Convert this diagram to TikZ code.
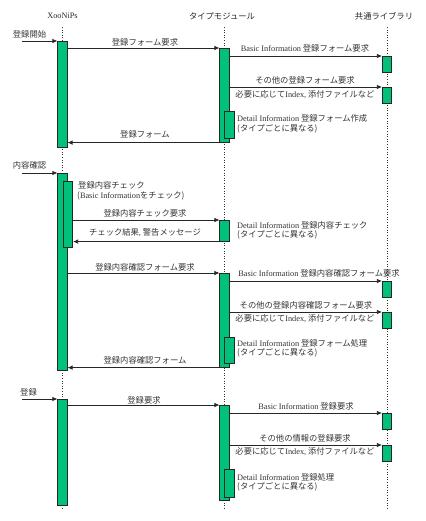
\documentclass[tikz,border=0pt]{standalone}
\usepackage{fontspec}
\setmainfont{Noto Sans CJK JP}
\newfontfamily\tm{Liberation Serif}
\usetikzlibrary{arrows.meta}
\definecolor{bargreen}{HTML}{00C07A}
\tikzset{
  bar/.style={draw=black!85, fill=bargreen, line width=0.6pt, minimum width=9.5pt, inner sep=0pt, anchor=north},
  life/.style={draw=black!80, line width=0.6pt, dotted},
  msg/.style={draw=black!85, line width=0.7pt, -{Latex[length=5pt,width=4.5pt]}},
  lbl/.style={inner sep=0pt, text=black!80, font=\fontsize{8.3}{9}\selectfont},
  note/.style={lbl, anchor=west},
  hdr/.style={inner sep=0pt, text=black!85, font=\fontsize{8.3}{9}\selectfont}
}
\begin{document}
\begin{tikzpicture}[x=1pt,y=-1pt]
\useasboundingbox (0,0) rectangle (425,521);
% headers
\node[hdr] (hx) at (62.5,16) {\tm XooNiPs};
\node[hdr] (ht) at (222,16) {タイプモジュール};
\node[hdr] (hl) at (384,16) {共通ライブラリ};
% lifelines
\coordinate (lxt) at (62.5,27); \coordinate (lxb) at (62.5,510);
\coordinate (ltt) at (224.5,27); \coordinate (ltb) at (224.5,510);
\coordinate (llt) at (387,27); \coordinate (llb) at (387,510);
\draw[life] (lxt) -- (lxb);
\draw[life] (ltt) -- (ltb);
\draw[life] (llt) -- (llb);
% ---------- section 1 ----------
\node[bar, minimum height=106pt] (x1) at (62.5,41) {};
\node[bar, minimum height=94pt] (t1) at (224.5,48) {};
\node[bar, minimum height=16pt] (l1) at (387,56) {};
\node[bar, minimum height=16pt] (l2) at (387,87) {};
\node[bar, minimum height=27pt] (t1d) at (229.5,111) {};
\coordinate (s1) at (22,41);
\node[lbl] (a1) at (29.5,34) {登録開始};
\draw[msg] (s1) -- (x1.north west);
\draw[msg] (x1.east |- t1.north) -- (t1.north west);
\node[lbl] (m1) at (145,42) {登録フォーム要求};
\draw[msg] (t1.east |- l1.north) -- (l1.north west);
\node[lbl] (m2) at (305,48) {{\tm Basic Information} 登録フォーム要求};
\draw[msg] (t1.east |- l2.north) -- (l2.north west);
\node[lbl] (m3) at (305,80) {その他の登録フォーム要求};
\node[lbl] (m3b) at (305,95) {必要に応じて{\tm Index,} 添付ファイルなど};
\node[note] (n1) at (237,118) {{\tm Detail Information} 登録フォーム作成};
\node[note] (n1b) at (237,129) {(タイプごとに異なる)};
\draw[msg] (t1.south west) -- (x1.east |- t1.south);
\node[lbl] (m4) at (145,134) {登録フォーム};
% ---------- section 2 ----------
\node[bar, minimum height=197pt] (x2) at (62.5,173) {};
\node[bar, minimum height=66pt] (x2d) at (68,181) {};
\node[bar, minimum height=21pt] (t2) at (224.5,220) {};
\node[bar, minimum height=94pt] (t3) at (224.5,273) {};
\node[bar, minimum height=16pt] (l3) at (387,281) {};
\node[bar, minimum height=16pt] (l4) at (387,312) {};
\node[bar, minimum height=26pt] (t3d) at (229.5,337) {};
\coordinate (s2) at (22,173);
\node[lbl] (a2) at (29.5,165) {内容確認};
\draw[msg] (s2) -- (x2.north west);
\node[note] (n2) at (78,185) {登録内容チェック};
\node[note] (n2b) at (77,196) {({\tm Basic Information}をチェック)};
\draw[msg] (x2d.east |- t2.north) -- (t2.north west);
\node[lbl] (m5) at (145,213) {登録内容チェック要求};
\draw[msg] (t2.south west) -- (x2d.east |- t2.south);
\node[lbl] (m6) at (145,233) {チェック結果{\tm ,} 警告メッセージ};
\node[note] (n3) at (237,225) {{\tm Detail Information} 登録内容チェック};
\node[note] (n3b) at (237,235) {(タイプごとに異なる)};
\draw[msg] (x2.east |- t3.north) -- (t3.north west);
\node[lbl] (m7) at (145,267) {登録内容確認フォーム要求};
\draw[msg] (t3.east |- l3.north) -- (l3.north west);
\node[lbl] (m8) at (319,273) {{\tm Basic Information} 登録内容確認フォーム要求};
\draw[msg] (t3.east |- l4.north) -- (l4.north west);
\node[lbl] (m9) at (306,305) {その他の登録内容確認フォーム要求};
\node[lbl] (m9b) at (305,319) {必要に応じて{\tm Index,} 添付ファイルなど};
\node[note] (n4) at (237,343) {{\tm Detail Information} 登録フォーム処理};
\node[note] (n4b) at (237,353) {(タイプごとに異なる)};
\draw[msg] (t3.south west) -- (x2.east |- t3.south);
\node[lbl] (m10) at (145,360) {登録内容確認フォーム};
% ---------- section 3 ----------
\node[bar, minimum height=106pt] (x3) at (62.5,399) {};
\node[bar, minimum height=95pt] (t4) at (224.5,405) {};
\node[bar, minimum height=16pt] (l5) at (387,413) {};
\node[bar, minimum height=16pt] (l6) at (387,445) {};
\node[bar, minimum height=28pt] (t4d) at (229.5,469) {};
\coordinate (s3) at (22,399);
\node[lbl] (a3) at (28.5,392) {登録};
\draw[msg] (s3) -- (x3.north west);
\draw[msg] (x3.east |- t4.north) -- (t4.north west);
\node[lbl] (m11) at (144,400) {登録要求};
\draw[msg] (t4.east |- l5.north) -- (l5.north west);
\node[lbl] (m12) at (306,406) {{\tm Basic Information} 登録要求};
\draw[msg] (t4.east |- l6.north) -- (l6.north west);
\node[lbl] (m13) at (305,438) {その他の情報の登録要求};
\node[lbl] (m13b) at (305,452) {必要に応じて{\tm Index,} 添付ファイルなど};
\node[note] (n5) at (237,477) {{\tm Detail Information} 登録処理};
\node[note] (n5b) at (237,487) {(タイプごとに異なる)};
\end{tikzpicture}
\end{document}
